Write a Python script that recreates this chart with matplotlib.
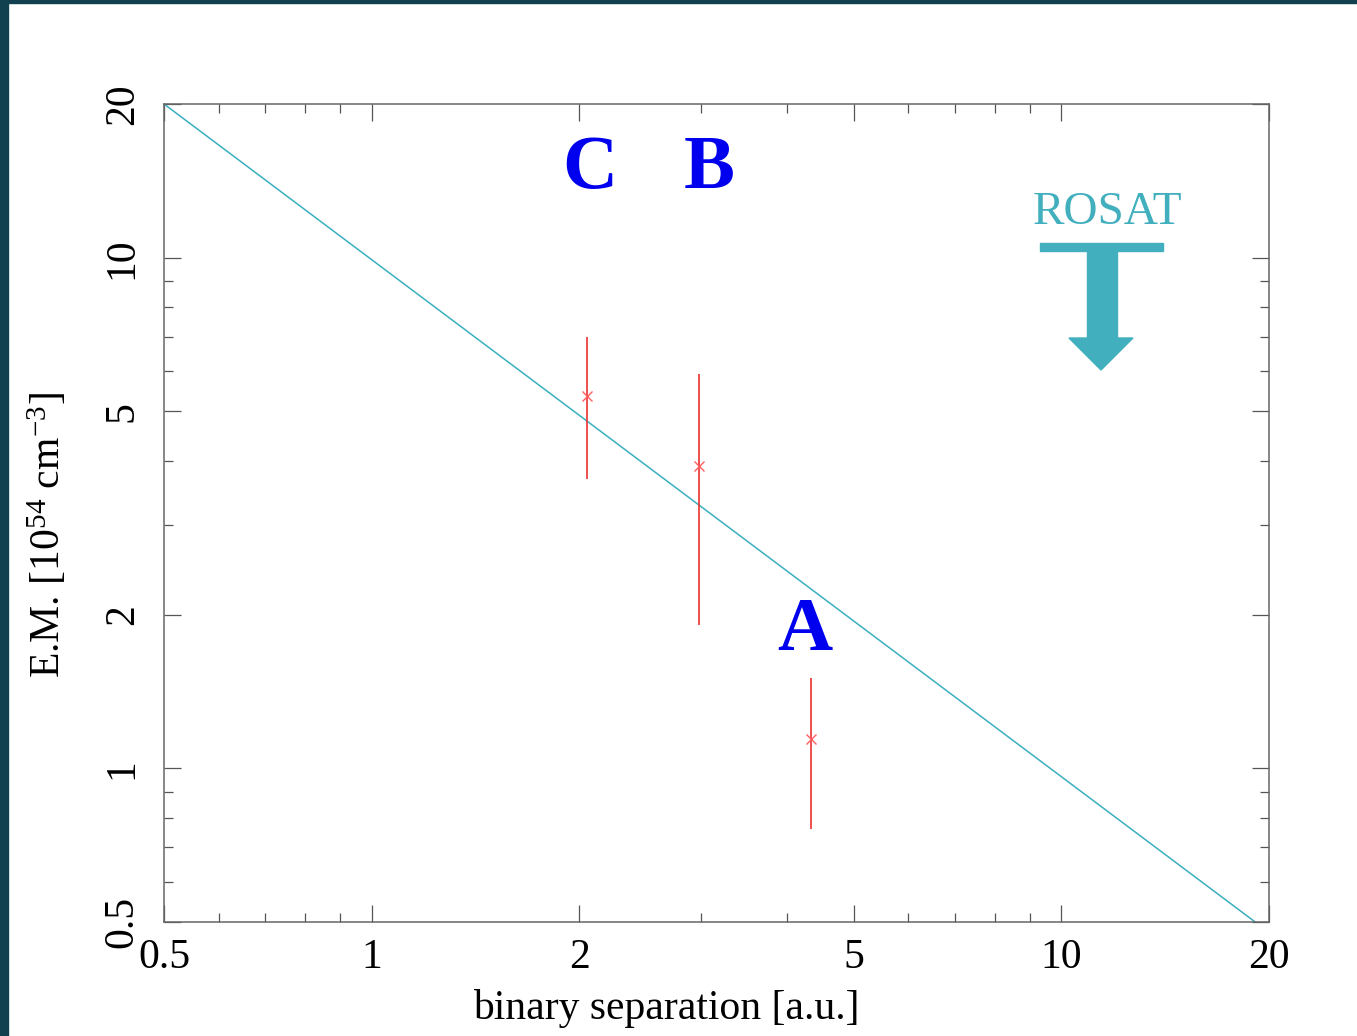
import numpy as np
import matplotlib
matplotlib.use("Agg")
import matplotlib.pyplot as plt
from matplotlib.ticker import FixedLocator, LogLocator, NullFormatter
from matplotlib.patches import Rectangle, Polygon

# data
labels = ["C", "B", "A"]
sep = [2.05, 2.98, 4.34]
em = [5.36, 3.91, 1.14]
em_hi = [7.0, 5.92, 1.50]
em_lo = [3.68, 1.91, 0.76]

fit_x = [0.5, 19.1]
fit_y = [20.0, 0.5]

xticks = [0.5, 1, 2, 5, 10, 20]
xticklabels = ["0.5", "1", "2", "5", "10", "20"]
yticks = [0.5, 1, 2, 5, 10, 20]
yticklabels = ["0.5", "1", "2", "5", "10", "20"]

plt.rcParams['font.family'] = ['Liberation Serif', 'DejaVu Serif']
plt.rcParams['mathtext.fontset'] = 'custom'
plt.rcParams['mathtext.rm'] = 'Liberation Serif'
plt.rcParams['mathtext.it'] = 'Liberation Serif:italic'

W, H = 1357, 1036
fig = plt.figure(figsize=(W / 100, H / 100), dpi=100)

def fx(x):
    return x / W

def fy(y):
    return 1 - y / H

# dark frame on left and top
fig.patches.append(Rectangle((0, 0), fx(8), 1, transform=fig.transFigure, color="#11404f", zorder=0))
fig.patches.append(Rectangle((0, fy(3)), 1, fy(0) - fy(3), transform=fig.transFigure, color="#11404f", zorder=0))

ax = fig.add_axes([fx(164), fy(922), fx(1269) - fx(164), fy(104) - fy(922)])
ax.set_xscale("log")
ax.set_yscale("log")
ax.set_xlim(0.5, 20)
ax.set_ylim(0.5, 20)

ax.plot(fit_x, fit_y, color="#3aafbf", lw=1.1, zorder=2)

yerr = [np.array(em) - np.array(em_lo), np.array(em_hi) - np.array(em)]
ax.errorbar(sep, em, yerr=yerr, fmt="none", ecolor="#ee3030", elinewidth=1.2, capsize=0, zorder=3)
ax.plot(sep, em, "x", color="#ff6060", ms=7, mew=1.0, zorder=4)

ax.xaxis.set_major_locator(FixedLocator(xticks))
ax.set_xticklabels(xticklabels)
ax.yaxis.set_major_locator(FixedLocator(yticks))
ax.set_yticklabels(yticklabels, rotation=90, va="center")
for a in (ax.xaxis, ax.yaxis):
    a.set_minor_locator(LogLocator(base=10, subs=np.arange(2, 10)))
    a.set_minor_formatter(NullFormatter())

ax.tick_params(which="both", direction="in", top=True, right=True, color="#555555", width=0.9)
ax.tick_params(which="major", length=12, labelsize=30)
ax.tick_params(which="minor", length=6.5)
ax.tick_params(axis="x", pad=12)
ax.tick_params(axis="y", pad=16)
for s in ax.spines.values():
    s.set_color("#666666")
    s.set_linewidth(1.1)

fig.text(fx(666), fy(1008), "binary separation [a.u.]", fontsize=30, ha="center", va="center")
fig.text(fx(48), fy(535), r"E.M. [10$^{54}$ cm$^{-3}$]", fontsize=30, rotation=90, ha="center", va="center")

# component labels
label_pos = [(590, 169), (709, 169), (805, 632)]
for lab, (px, py) in zip(labels, label_pos):
    fig.text(fx(px), fy(py), lab, fontsize=55, fontweight="bold", color="#0000ee", ha="center", va="center")

# ROSAT upper limit arrow
rc = "#41afbd"
fig.text(fx(1108), fy(213), "ROSAT", fontsize=34, color=rc, ha="center", va="center")
fig.patches.append(Rectangle((fx(1040), fy(251)), fx(1163) - fx(1040), fy(243) - fy(251),
                             transform=fig.transFigure, color=rc))
fig.patches.append(Rectangle((fx(1087), fy(339)), fx(1117) - fx(1087), fy(250) - fy(339),
                             transform=fig.transFigure, color=rc))
fig.patches.append(Polygon([(fx(1069), fy(338)), (fx(1133), fy(338)), (fx(1101), fy(370))],
                           closed=True, transform=fig.transFigure, color=rc))

fig.savefig("out.png", dpi=100)
